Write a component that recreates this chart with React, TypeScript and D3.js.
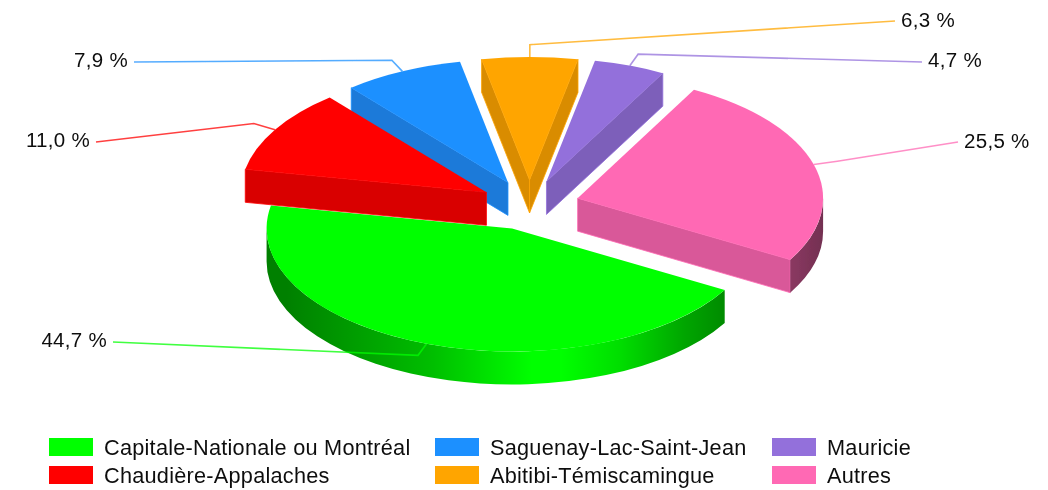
import * as d3 from 'd3';

const regions = ['Capitale-Nationale ou Montréal', 'Chaudière-Appalaches', 'Saguenay-Lac-Saint-Jean', 'Abitibi-Témiscamingue', 'Mauricie', 'Autres'];
const shares = [44.7, 11.0, 7.9, 6.3, 4.7, 25.5];
const percentLabels = ['44,7 %', '11,0 %', '7,9 %', '6,3 %', '4,7 %', '25,5 %'];
const colors = ['#00FF00', '#FF0000', '#1E90FF', '#FFA500', '#9370DB', '#FF69B4'];

// painter's order of the exploded slices
const drawOrder = [0, 2, 4, 3, 5, 1];

const width = 1048;
const height = 490;
const cx = 529.5;
const cy = 205;
const rx = 245.5;
const ry = 123;
const depth = 33;
const explode = 50;
const tilt = ry / rx;
const TAU = Math.PI * 2;

// where each leader line stops, and which side of it the label sits on
const leaderEnds = [[113, 342], [96, 142], [134, 62], [895, 21], [922, 62], [958, 142]];
const labelSide = [-1, -1, -1, 1, 1, 1];
const labelGapY = [-2, -2, -2, -1, -2, -1];

const rimStops = [[0, 0.5], [0.04, 0.5], [0.34, 0.75], [0.54, 1], [0.6, 1], [0.72, 0.87], [0.85, 0.65], [0.93, 0.55], [1, 0.45]];

const legendColumns = [49, 435, 772];
const legendRows = [438, 466];
const legendRowsPerColumn = 2;

const color = d3.scaleOrdinal<string, string>().domain(regions).range(colors);

function shade(c: string, f: number) {
  const r = d3.rgb(c);
  return d3.rgb(r.r * f, r.g * f, r.b * f).formatHex();
}

const pie = d3.pie<number>().sort(null).startAngle((120 * Math.PI) / 180).endAngle((120 * Math.PI) / 180 + TAU);
const arcs = pie(shares);
const topArc = d3.arc<d3.PieArcDatum<number>>().innerRadius(0).outerRadius(rx);

// point on the flattened circle, angle measured clockwise from north
const onRim = (a: number, scale = 1) => [scale * rx * Math.sin(a), -scale * ry * Math.cos(a)];

function wallPath(a: number, ox: number, oy: number) {
  const [x, y] = onRim(a);
  const p = d3.path();
  p.moveTo(ox, oy);
  p.lineTo(ox + x, oy + y);
  p.lineTo(ox + x, oy + y + depth);
  p.lineTo(ox, oy + depth);
  p.closePath();
  return p.toString();
}

function rimPath(a0: number, a1: number, ox: number, oy: number) {
  const [x0, y0] = onRim(a0);
  const [x1, y1] = onRim(a1);
  const large = a1 - a0 > Math.PI ? 1 : 0;
  return `M${ox + x0},${oy + y0}A${rx},${ry} 0 ${large} 1 ${ox + x1},${oy + y1}L${ox + x1},${oy + y1 + depth}A${rx},${ry} 0 ${large} 0 ${ox + x0},${oy + y0 + depth}Z`;
}

function visibleRim(a0: number, a1: number) {
  for (const turn of [0, TAU]) {
    const s = Math.max(a0, Math.PI / 2 + turn);
    const e = Math.min(a1, (3 * Math.PI) / 2 + turn);
    if (e > s) return [s, e];
  }
  return null;
}

const slices = arcs.map((d, i) => {
  const mid = (d.startAngle + d.endAngle) / 2;
  const ox = cx + explode * Math.sin(mid);
  const oy = cy - explode * tilt * Math.cos(mid);
  return { d, i, mid, ox, oy, name: regions[i], fill: color(regions[i]) };
});

const leader = d3.line();

export default function App() {
  return (
    <svg
      width={width}
      height={height}
      viewBox={`0 0 ${width} ${height}`}
      style={{ position: 'absolute', left: 0, top: 0, background: '#fff' }}
      fontFamily="'Liberation Sans', Arial, sans-serif"
    >
      <defs>
        <filter id="soft" x="-2%" y="-2%" width="104%" height="104%">
          <feGaussianBlur stdDeviation="0.45" />
        </filter>
        {slices.map(s => (
          <linearGradient key={s.i} id={`rim-${s.i}`} gradientUnits="userSpaceOnUse" x1={s.ox - rx} x2={s.ox + rx} y1={0} y2={0}>
            {rimStops.map(([o, f]) => (
              <stop key={o} offset={o} stopColor={shade(s.fill, f)} />
            ))}
          </linearGradient>
        ))}
      </defs>
      <g filter="url(#soft)">
        {drawOrder.map(i => {
          const s = slices[i];
          const rim = visibleRim(s.d.startAngle, s.d.endAngle);
          const wallStyle = { fill: shade(s.fill, 0.85), stroke: s.fill, strokeWidth: 0.8 };
          return (
            <g key={s.name}>
              {Math.sin(s.d.startAngle) < 0 && <path d={wallPath(s.d.startAngle, s.ox, s.oy)} {...wallStyle} />}
              {Math.sin(s.d.endAngle) > 0 && <path d={wallPath(s.d.endAngle, s.ox, s.oy)} {...wallStyle} />}
              {rim && <path d={rimPath(rim[0], rim[1], s.ox, s.oy)} fill={`url(#rim-${i})`} />}
              <path
                d={topArc(s.d) as string}
                transform={`translate(${s.ox},${s.oy}) scale(1,${tilt})`}
                fill={s.fill}
              />
            </g>
          );
        })}
        {slices.map(s => {
          const [rimX, rimY] = onRim(s.mid);
          const [elbowX, elbowY] = onRim(s.mid, 1.1);
          const pts: [number, number][] = [
            [s.ox + rimX, s.oy + rimY],
            [s.ox + elbowX, s.oy + elbowY],
            leaderEnds[s.i] as [number, number],
          ];
          return <path key={s.name} d={leader(pts) as string} fill="none" stroke={s.fill} strokeWidth={1.6} strokeOpacity={0.75} />;
        })}
        {slices.map(s => {
          const [ex, ey] = leaderEnds[s.i];
          const side = labelSide[s.i];
          return (
            <text
              key={s.name}
              x={ex + side * 6}
              y={ey + labelGapY[s.i]}
              dy="0.36em"
              textAnchor={side < 0 ? 'end' : 'start'}
              fontSize={20.5}
              letterSpacing={0.3}
              fill="#111"
            >
              {percentLabels[s.i]}
            </text>
          );
        })}
        {regions.map((name, i) => {
          const col = Math.floor(i / legendRowsPerColumn);
          const row = i % legendRowsPerColumn;
          return (
            <g key={name} transform={`translate(${legendColumns[col]},${legendRows[row]})`}>
              <rect width={44} height={18} fill={color(name)} />
              <text x={55} y={9} dy="0.36em" fontSize={21.7} letterSpacing={0.25} fill="#111">
                {name}
              </text>
            </g>
          );
        })}
      </g>
    </svg>
  );
}
